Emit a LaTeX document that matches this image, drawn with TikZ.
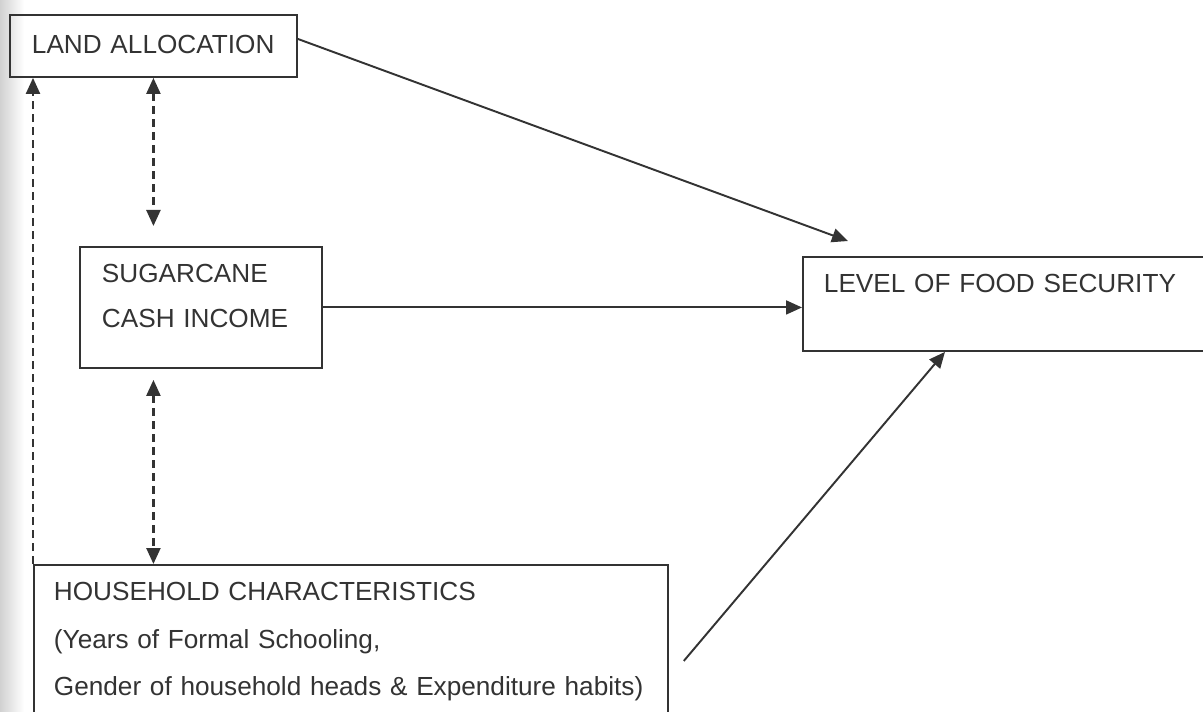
\documentclass[tikz,border=0pt]{standalone}
\usepackage{fontspec}
\setmainfont{Liberation Sans}
\usetikzlibrary{positioning, arrows.meta, calc}

\begin{document}
\begin{tikzpicture}[x=0.02cm, y=-0.02cm, line width=1.1pt, color=black!80,
			box/.style={draw, anchor=north west, align=left, inner ysep=0pt, inner xsep=0.44cm,
				text height=0.72cm, font=\fontsize{14.9}{25.6}\selectfont},
			link/.style={-{Triangle[length=0.32cm, width=0.28cm]}},
			dashline/.style={line width=1.3pt, dash pattern=on 0.16cm off 0.1cm},
			both/.style={dashline, {Triangle[length=0.32cm, width=0.28cm]}-{Triangle[length=0.32cm, width=0.28cm]}}]
			\useasboundingbox (0,0) rectangle (1203,712);
			\shade[left color=black!18, right color=white, draw=none] (0,0) rectangle (24,712);
			\node[box, text height=0.78cm, text depth=0.46cm, text width=4.86cm] (land) at (9,14) {LAND ALLOCATION};
			\node[box, text depth=1.70cm, text width=3.96cm] (cane) at (79,246) {SUGARCANE\\CASH INCOME};
			\node[box, text depth=1.16cm, inner xsep=0.42cm, text width=7.52cm] (food) at (802,256) {LEVEL OF FOOD SECURITY};
			\node[box, text depth=2.8cm, inner xsep=0.4cm, text width=11.88cm, font=\fontsize{14.9}{27}\selectfont] (house) at (33,564)
				{HOUSEHOLD CHARACTERISTICS\\(Years of Formal Schooling,\\Gender of household heads \& Expenditure habits)};
			\draw[link] ([yshift=0.14cm]land.east) -- ([xshift=0.92cm, yshift=0.3cm]food.north west);
			\draw[link] (cane.east) -- (cane.east -| food.west);
			\draw[link] ([xshift=0.3cm, yshift=-0.16cm]house.east) -- ([xshift=2.86cm]food.south west);
			\draw[both] (land.south) -- ($(land.south |- cane.north)+(0,-20)$);
			\draw[both] ($(land.south |- cane.south)+(0,11)$) -- (land.south |- house.north);
			\draw[link, dashline] (house.north west) -- (house.north west |- land.south);
		\end{tikzpicture}
\end{document}
